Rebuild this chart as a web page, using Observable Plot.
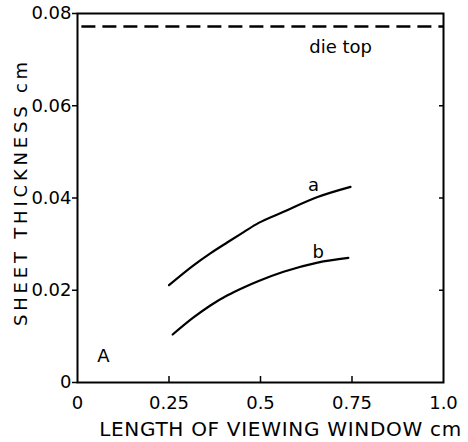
<!DOCTYPE html>
<html>
<head>
<meta charset="utf-8">
<script src="https://cdn.jsdelivr.net/npm/d3@7"></script>
<script src="https://cdn.jsdelivr.net/npm/@observablehq/plot@0.6"></script>
<style>
  html, body { margin: 0; padding: 0; background: #fff; }
</style>
</head>
<body>
<div id="chart"></div>
<script>
// Data
const xTicks = [0, 0.25, 0.5, 0.75, 1.0];
const xTickLabels = ["0", "0.25", "0.5", "0.75", "1.0"];
const yTicks = [0, 0.02, 0.04, 0.06, 0.08];
const yTickLabels = ["0", "0.02", "0.04", "0.06", "0.08"];

const aX = [0.25, 0.317, 0.363, 0.41, 0.454, 0.495, 0.563, 0.656, 0.746];
const aY = [0.0211, 0.0254, 0.0280, 0.0304, 0.0326, 0.0346, 0.0370, 0.0402, 0.0424];
const bX = [0.26, 0.317, 0.363, 0.41, 0.454, 0.495, 0.563, 0.656, 0.74];
const bY = [0.0104, 0.0141, 0.0167, 0.0189, 0.0206, 0.0220, 0.0240, 0.0260, 0.0270];

const dieTop = 0.0772;

const labels = [
  {text: "a", x: 0.645, y: 0.0428},
  {text: "b", x: 0.658, y: 0.0283},
  {text: "die top", x: 0.719, y: 0.0726},
  {text: "A", x: 0.071, y: 0.0057}
];

const xTitle = "LENGTH OF VIEWING WINDOW cm";
const yTitle = "SHEET THICKNESS cm";

const curveA = aX.map((x, i) => ({x, y: aY[i]}));
const curveB = bX.map((x, i) => ({x, y: bY[i]}));

const fmt = (ticks, lbls) => d => lbls[ticks.findIndex(t => Math.abs(t - d) < 1e-9)];

const chart = Plot.plot({
  width: 468,
  height: 442,
  marginLeft: 77,
  marginRight: 25,
  marginTop: 13,
  marginBottom: 60,
  style: {fontFamily: "DejaVu Sans", color: "#000", background: "#fff"},
  x: {domain: [0, 1]},
  y: {domain: [0, 0.08]},
  marks: [
    Plot.frame({stroke: "#000", strokeWidth: 2}),
    Plot.axisY(yTicks, {anchor: "left", tickSize: 5, tickPadding: 1, tickFormat: fmt(yTicks, yTickLabels), fontSize: 18, label: null, strokeWidth: 1.5}),
    Plot.axisY([0.02, 0.04, 0.06], {anchor: "right", tickSize: -5, text: null, label: null, strokeWidth: 1.5}),
    Plot.axisX(xTicks, {anchor: "bottom", tickSize: 0, tickPadding: 14, tickFormat: fmt(xTicks, xTickLabels), fontSize: 18, label: null}),
    Plot.axisX([0.25, 0.5, 0.75], {anchor: "bottom", tickSize: -6, text: null, label: null, strokeWidth: 1.5}),
    Plot.ruleY([dieTop], {x1: 0.012, x2: 1, stroke: "#000", strokeWidth: 2.5, strokeDasharray: "14,7"}),
    Plot.line(curveA, {x: "x", y: "y", curve: "monotone-x", stroke: "#000", strokeWidth: 2.2}),
    Plot.line(curveB, {x: "x", y: "y", curve: "monotone-x", stroke: "#000", strokeWidth: 2.2}),
    Plot.text(labels, {x: "x", y: "y", text: "text", fontSize: 18, fill: "#000"}),
    Plot.text([xTitle], {frameAnchor: "bottom", lineAnchor: "middle", textAnchor: "middle", dx: 20, dy: 47, fontSize: 20, fill: "#000"}),
    Plot.text([yTitle], {frameAnchor: "left", lineAnchor: "middle", textAnchor: "middle", dx: -56, dy: -6, rotate: -90, fontSize: 18, fill: "#000"})
  ]
});

d3.select(chart).selectAll("text").each(function() {
  const t = this.textContent;
  if (t === xTitle) this.setAttribute("letter-spacing", "0.7");
  if (t === yTitle) this.setAttribute("letter-spacing", "3.8");
});

document.getElementById("chart").appendChild(chart);
</script>
</body>
</html>
